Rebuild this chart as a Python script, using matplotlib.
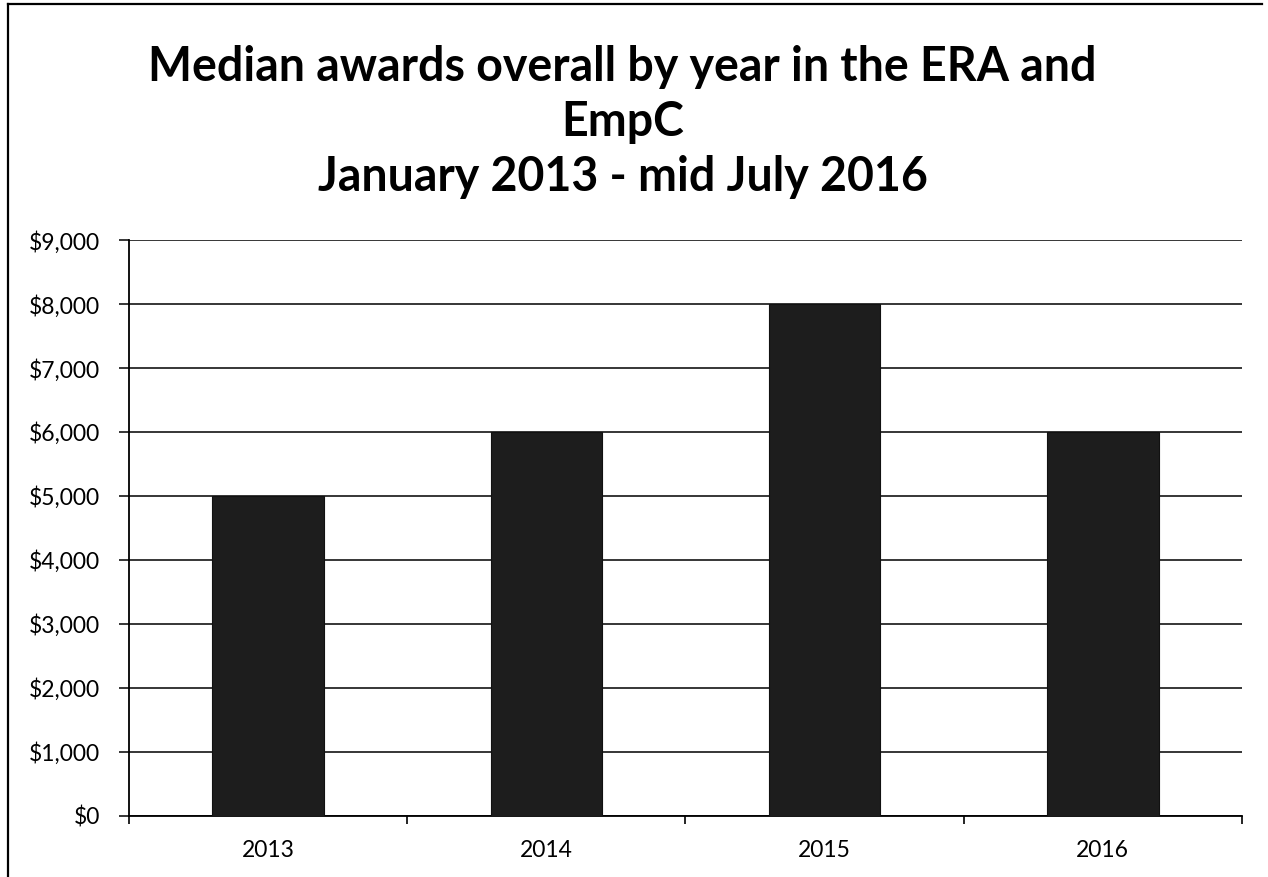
import matplotlib.pyplot as plt
from matplotlib.lines import Line2D
from matplotlib.ticker import FuncFormatter, FixedLocator

# Median awards by year
years = ["2013", "2014", "2015", "2016"]
median_award = [5000, 6000, 8000, 6000]

title_lines = [
    "Median awards overall by year in the ERA and",
    "EmpC",
    "January 2013 - mid July 2016",
]

plt.rcParams['font.family'] = ['Lato', 'DejaVu Sans']

fig = plt.figure(figsize=(12.68, 8.77), dpi=100)
ax = fig.add_axes([0.1017, 0.0696, 0.8778, 0.6567])

x = range(len(years))
ax.bar(x, median_award, width=0.4, color='#1d1d1d', edgecolor='#111111',
       linewidth=0.8, zorder=3)

ax.set_xlim(-0.5, len(years) - 0.5)
ax.set_ylim(0, 9000)
ax.set_yticks(range(0, 9001, 1000))
ax.yaxis.set_major_formatter(FuncFormatter(lambda v, _: f"${v:,.0f}"))
ax.grid(axis='y', color='black', linewidth=1.1, zorder=0)

ax.set_xticks(list(x))
ax.set_xticklabels(years)
ax.xaxis.set_minor_locator(FixedLocator([i - 0.5 for i in range(len(years) + 1)]))
ax.tick_params(axis='x', which='major', length=0, pad=17, labelsize=16.5)
ax.tick_params(axis='x', which='minor', length=6, width=1.2, direction='out')
ax.tick_params(axis='y', length=7, width=1.1, direction='out', pad=14,
               labelsize=16.5)

for side in ('top', 'right'):
    ax.spines[side].set_visible(False)
ax.spines['left'].set_linewidth(1.3)
ax.spines['bottom'].set_linewidth(1.3)

# Title block
for i, line in enumerate(title_lines):
    fig.text(0.491, 0.924 - i * 0.063, line, ha='center', va='center',
             fontsize=33.5, fontweight='bold')

# Chart frame: left and top edges
fig.add_artist(Line2D([8 / 1268, 8 / 1268], [0, 1 - 4 / 877],
                      transform=fig.transFigure, color='black', linewidth=1.6))
fig.add_artist(Line2D([8 / 1268, 1262 / 1268], [1 - 4 / 877, 1 - 4 / 877],
                      transform=fig.transFigure, color='black', linewidth=1.6))

fig.savefig("out.png", dpi=100)
